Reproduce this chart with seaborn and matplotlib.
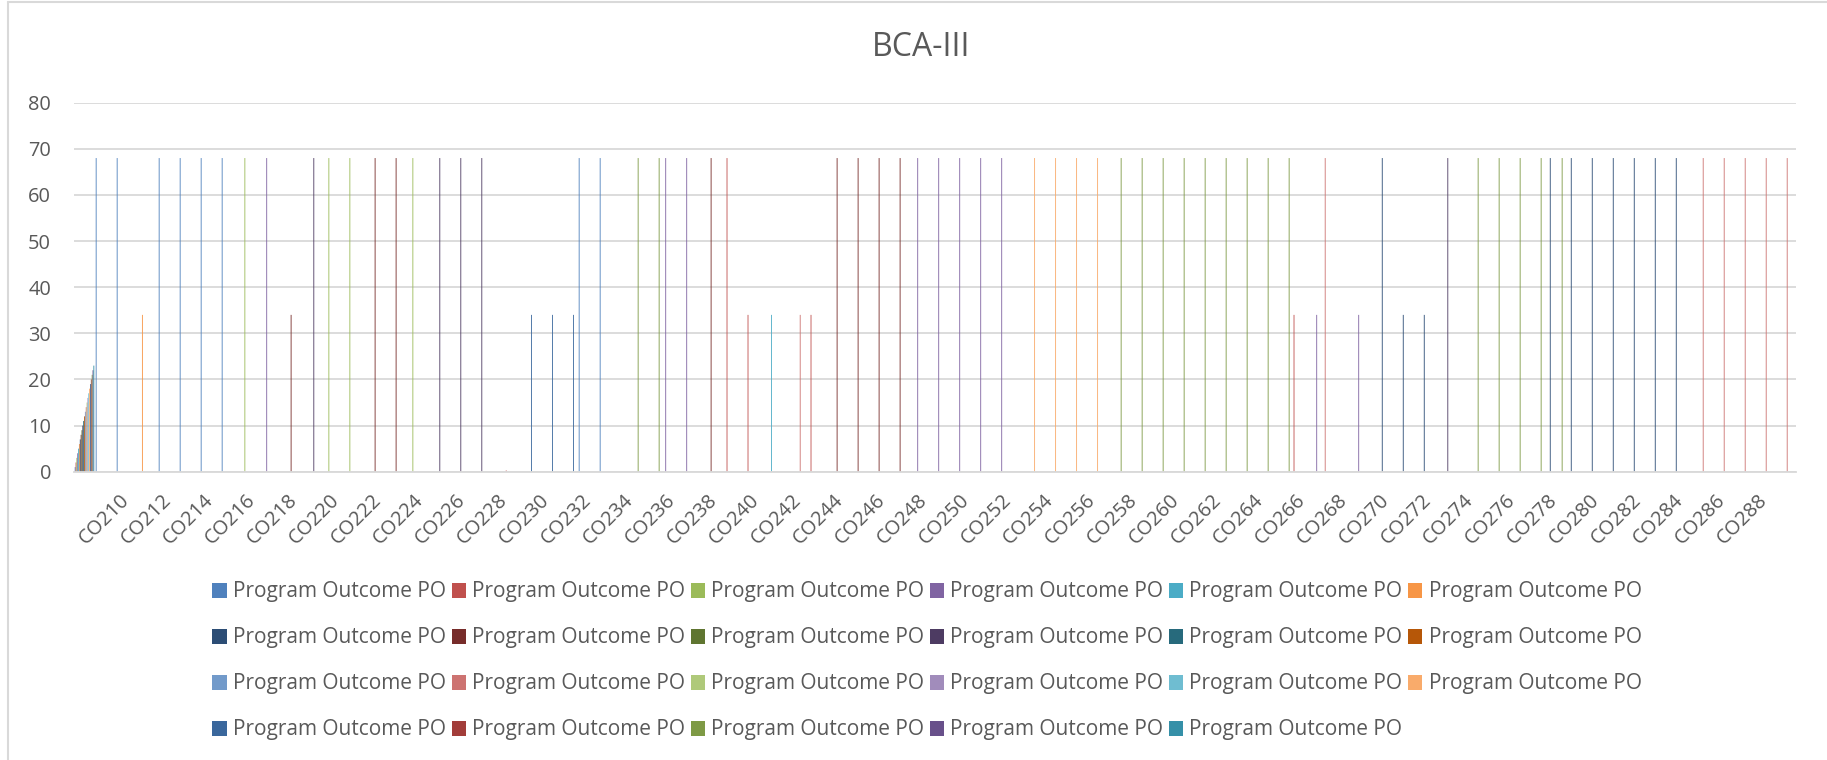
import matplotlib
matplotlib.use("Agg")
import matplotlib.pyplot as plt
import numpy as np
import pandas as pd
import seaborn as sns

# ---------------- data ----------------
title = "BCA-III"
categories = [""] + ["CO%d" % n for n in range(209, 290)]
series_keys = ["PO%d" % i for i in range(1, 24)]
series_labels = ["Program Outcome PO"] * 23
colors = ["#4F81BD", "#C0504D", "#9BBB59", "#8064A2", "#4BACC6", "#F79646",
          "#2C4D75", "#772C2A", "#5F7530", "#4D3B62", "#276A7C", "#B65708",
          "#729ACA", "#CD7371", "#AFC97A", "#A18CBB", "#6FBDD1", "#F9AB6B",
          "#3A679C", "#A23D3A", "#7E9A45", "#68508A", "#3590A8"]

# first (unlabelled) category: one bar per series
first_cat_values = [1, 2, 3, 4, 5, 6, 7, 8, 9, 10, 11, 12,
                    13, 14, 15, 16, 17, 18, 19, 20, 21, 22, 23]

# remaining non-zero bars: category, series index, value
bar_cat = ["CO209", "CO210", "CO211", "CO212", "CO213", "CO214", "CO215", "CO216",
           "CO217", "CO218", "CO219", "CO220", "CO221", "CO222", "CO223", "CO224",
           "CO225", "CO226", "CO227", "CO228", "CO229", "CO230", "CO231", "CO232",
           "CO233", "CO234", "CO235", "CO236", "CO237", "CO238", "CO239", "CO240",
           "CO241", "CO242", "CO243", "CO244", "CO245", "CO246", "CO247", "CO248",
           "CO249", "CO250", "CO251", "CO252", "CO253", "CO254", "CO255", "CO256",
           "CO257", "CO258", "CO259", "CO260", "CO261", "CO262", "CO263", "CO264",
           "CO265", "CO266", "CO267", "CO267", "CO269", "CO270", "CO271", "CO272",
           "CO273", "CO274", "CO275", "CO276", "CO277", "CO278", "CO278", "CO279",
           "CO280", "CO281", "CO282", "CO283", "CO284", "CO285", "CO286", "CO287",
           "CO288", "CO289"]
bar_series = [0, 0, 5, 0, 0, 0, 0, 2,
              3, 7, 9, 2, 2, 7, 7, 2,
              9, 9, 9, 13, 18, 18, 18, 0,
              0, 20, 20, 3, 3, 7, 1, 1,
              4, 13, 1, 7, 7, 7, 7, 3,
              3, 3, 3, 3, 17, 17, 17, 17,
              20, 20, 20, 20, 20, 20, 20, 20,
              20, 1, 3, 13, 3, 6, 6, 6,
              9, 20, 20, 20, 20, 6, 20, 6,
              6, 6, 6, 6, 6, 13, 13, 13,
              13, 13]
bar_value = [68, 68, 34, 68, 68, 68, 68, 68,
             68, 34, 68, 68, 68, 68, 68, 68,
             68, 68, 68, 0.3, 34, 34, 34, 68,
             68, 68, 68, 68, 68, 68, 68, 34,
             34, 34, 34, 68, 68, 68, 68, 68,
             68, 68, 68, 68, 68, 68, 68, 68,
             68, 68, 68, 68, 68, 68, 68, 68,
             68, 34, 34, 68, 34, 68, 34, 34,
             68, 68, 68, 68, 68, 68, 68, 68,
             68, 68, 68, 68, 68, 68, 68, 68,
             68, 68]

y_ticks = [0, 10, 20, 30, 40, 50, 60, 70, 80]

# ---------------- table ----------------
mat = np.zeros((len(categories), len(series_keys)))
mat[0, :] = first_cat_values
for c, s, v in zip(bar_cat, bar_series, bar_value):
    mat[categories.index(c), s] = v
rows = []
for ci, c in enumerate(categories):
    for si, s in enumerate(series_keys):
        rows.append((c, s, mat[ci, si]))
df = pd.DataFrame(rows, columns=["category", "series", "value"])

# ---------------- style ----------------
sns.set_style("white")
plt.rcParams["font.family"] = ["Open Sans", "DejaVu Sans"]
text_color = "#595959"
grid_color = "#D9D9D9"

W, H = 1827, 760
fig = plt.figure(figsize=(W / 100, H / 100), dpi=100)
ax = fig.add_axes([74 / W, 1 - 471.7 / H, (1796 - 74) / W, (471.7 - 102.7) / H])

sns.barplot(data=df, x="category", y="value", hue="series", order=categories,
            hue_order=series_keys, palette=colors, width=0.93, gap=0,
            dodge=True, errorbar=None, legend=False, linewidth=0,
            saturation=1, ax=ax)
for p in ax.patches:
    p.set_snap(False)

ax.set_xlim(-0.5, len(categories) - 0.5)
ax.set_ylim(0, 80)
ax.set_yticks(y_ticks)
ax.set_yticklabels([str(t) for t in y_ticks], fontsize=14.4, color=text_color)
ax.yaxis.grid(True, color=grid_color, linewidth=1.3)
ax.set_axisbelow(True)
ax.set_xlabel("")
ax.set_ylabel("")
for side in ["top", "right", "left"]:
    ax.spines[side].set_visible(False)
ax.spines["bottom"].set_color(grid_color)
ax.spines["bottom"].set_linewidth(1.3)
ax.tick_params(axis="both", length=0)
ax.tick_params(axis="y", pad=16.5)
ax.tick_params(axis="x", pad=18.5)

tick_pos = list(range(0, len(categories), 2))
ax.set_xticks(tick_pos)
ax.set_xticklabels([categories[i] for i in tick_pos], fontsize=14.4, color=text_color,
                   rotation=45, ha="right", va="center", rotation_mode="anchor")

fig.text(921 / W, 1 - 48 / H, title, ha="center", va="center",
         fontsize=23, color=text_color)

# legend, row-major order in 6 columns
ncol = 6
order = []
for j in range(ncol):
    order.extend([k for k in range(j, len(series_keys), ncol)])
handles = [ax.containers[k] for k in order]
labels = [series_labels[k] for k in order]
fig.legend(handles, labels, loc="center", bbox_to_anchor=(927 / W, 1 - 661 / H),
           ncol=ncol, frameon=False, fontsize=15, handlelength=0.7,
           handleheight=0.7, handletextpad=0.3, columnspacing=0.25,
           labelspacing=1.2, labelcolor=text_color)

# chart border
fig.add_artist(plt.Line2D([8 / W, 8 / W], [0, 1 - 2 / H], transform=fig.transFigure,
                          color=grid_color, linewidth=1.5))
fig.add_artist(plt.Line2D([8 / W, 1], [1 - 2 / H, 1 - 2 / H], transform=fig.transFigure,
                          color=grid_color, linewidth=1.5))

fig.savefig("out.png", dpi=100)
